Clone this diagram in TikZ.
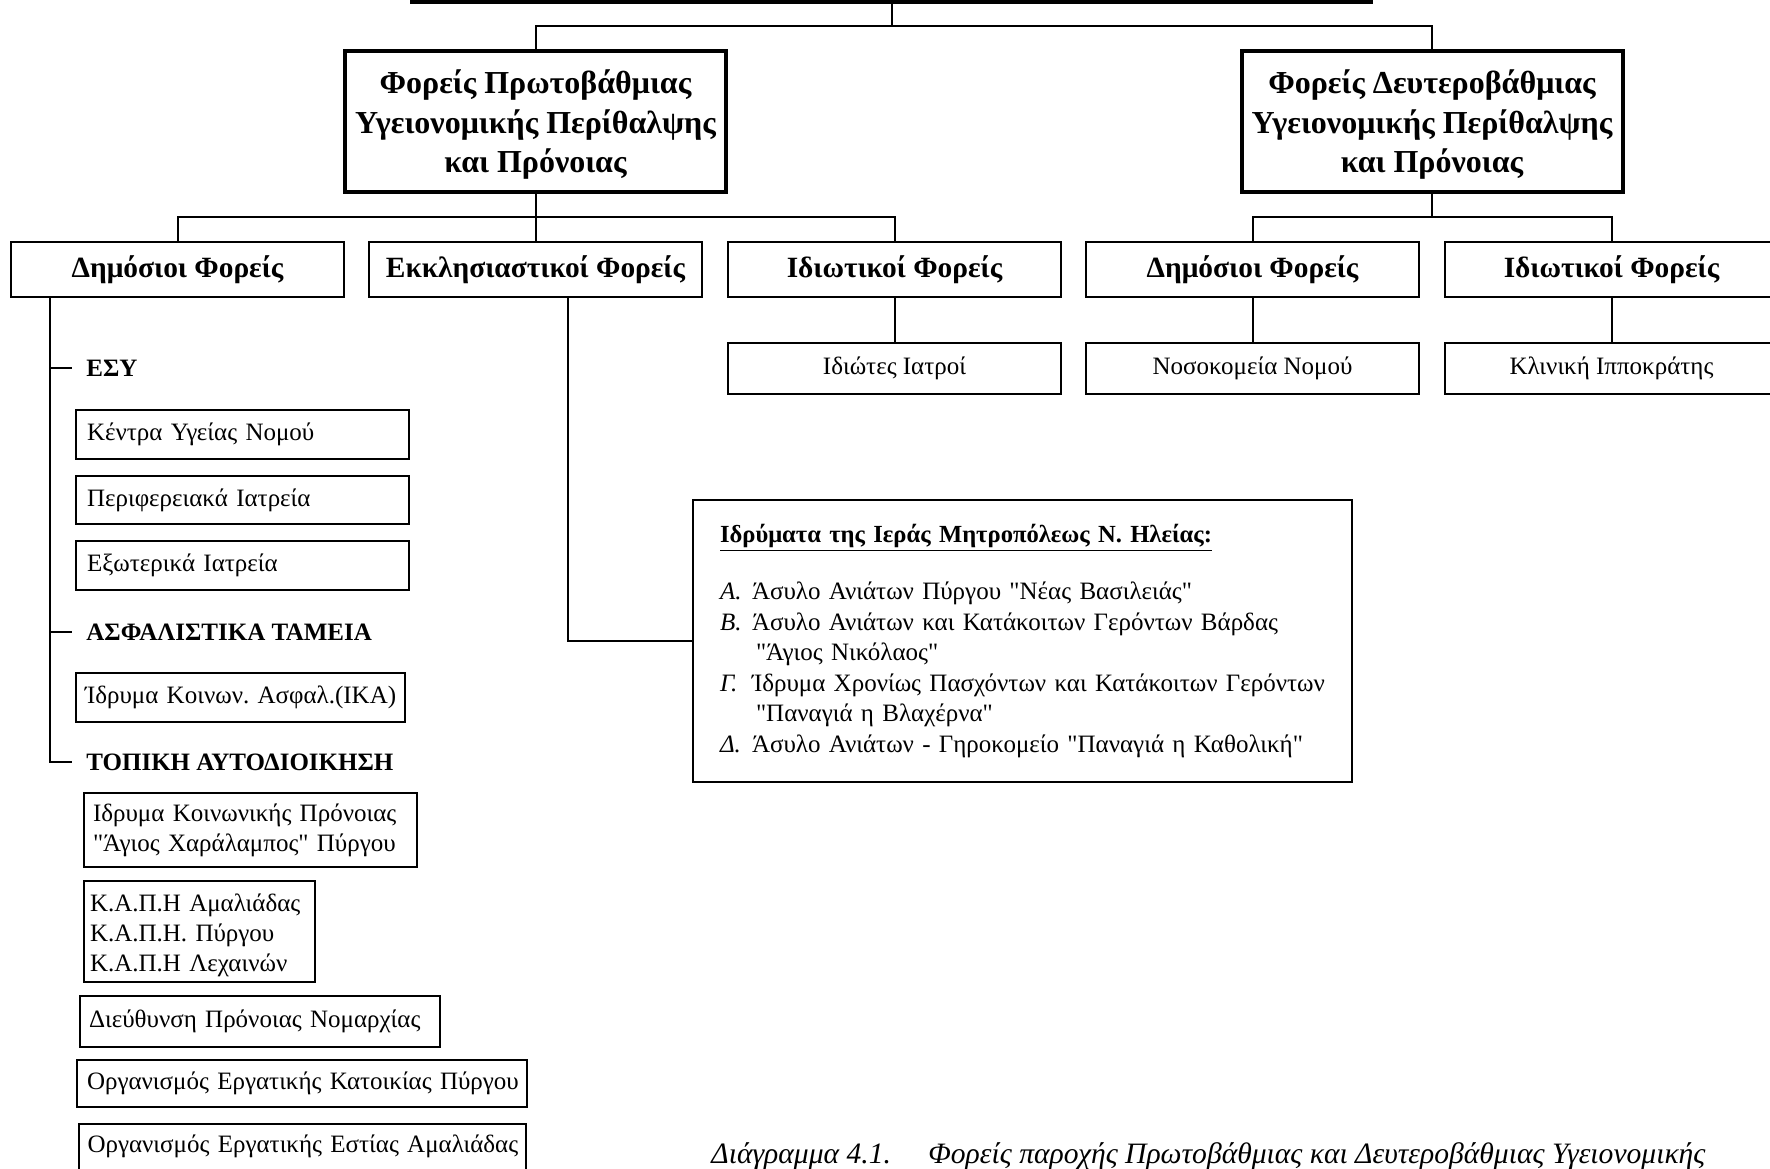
\documentclass[tikz,border=0pt]{standalone}
\usepackage{fontspec}
\setmainfont{Liberation Serif}[Ligatures=TeXOff]
\newcommand{\fsN}{\fontsize{12.5pt}{14.8pt}\selectfont}
\frenchspacing
\begin{document}
\frenchspacing
\begin{tikzpicture}[x=0.5pt,y=-0.5pt,
  conn/.style={line width=1pt},
  topbox/.style={draw, line width=1.8pt, minimum width=479.5pt, minimum height=31pt, inner sep=0pt},
  headbox/.style={draw, line width=2pt, align=center, font=\fontsize{16pt}{19.8pt}\selectfont\bfseries, minimum width=190.5pt, minimum height=70.5pt, inner sep=0pt},
  catbox/.style={draw, line width=1pt, font=\fontsize{14.7pt}{17pt}\selectfont\bfseries, minimum width=166.5pt, minimum height=27.5pt, inner sep=0pt},
  unitbox/.style={draw, line width=1pt, font=\fsN, minimum width=166.5pt, minimum height=25.5pt, inner sep=0pt},
  grouplabel/.style={anchor=west, font=\fontsize{12.5pt}{14.8pt}\selectfont\bfseries, inner xsep=7pt, inner ysep=0pt},
  listbox/.style={draw, line width=1pt, font=\fsN, anchor=west, align=left, inner ysep=0pt},
  captext/.style={anchor=base west, inner sep=0pt, font=\fontsize{14.8pt}{17pt}\selectfont\itshape}
]
\useasboundingbox (0,0) rectangle (1770,1168);
\clip (0,0) rectangle (1770,1168);
\fill[white] (0,0) rectangle (1770,1168);

% top level (cut off)
\node[topbox] (top) at (891.5,-29) {};

% level 1
\node[headbox] (prim) at (535.5,121.5) {\rule{0pt}{15pt}Φορείς Πρωτοβάθμιας\\Υγειονομικής Περίθαλψης\\και Πρόνοιας};
\node[headbox] (sec) at (1432,121.5) {\rule{0pt}{15pt}Φορείς Δευτεροβάθμιας\\Υγειονομικής Περίθαλψης\\και Πρόνοιας};

% level 2
\node[catbox] (pubL) at (177.5,269.5) {Δημόσιοι Φορείς};
\node[catbox] (eccl) at (535.5,269.5) {Εκκλησιαστικοί Φορείς};
\node[catbox] (privL) at (894.5,269.5) {Ιδιωτικοί Φορείς};
\node[catbox] (pubR) at (1252.5,269.5) {Δημόσιοι Φορείς};
\node[catbox] (privR) at (1611.5,269.5) {Ιδιωτικοί Φορείς};

% level 3
\node[unitbox] (doc) at (894.5,368.5) {Ιδιώτες Ιατροί};
\node[unitbox] (hosp) at (1252.5,368.5) {Νοσοκομεία Νομού};
\node[unitbox] (clin) at (1611.5,368.5) {Κλινική Ιπποκράτης};

% connectors top
\coordinate (j0) at (891.5,25.5);
\coordinate (j1) at (535.5,217);
\coordinate (j2) at (1432,217);
\draw[conn] (top.south) -- (j0);
\draw[conn] (prim.north) |- (j0) -| (sec.north);
\draw[conn] (prim.south) -- (eccl.north);
\draw[conn] (pubL.north) |- (j1) -| (privL.north);
\draw[conn] (sec.south) -- (j2);
\draw[conn] (pubR.north) |- (j2) -| (privR.north);
\draw[conn] (privL) -- (doc);
\draw[conn] (pubR) -- (hosp);
\draw[conn] (privR) -- (clin);

% left branch: public bodies
\node[grouplabel] (esy) at (72,368) {ΕΣΥ};
\node[grouplabel] (asf) at (72,632) {ΑΣΦΑΛΙΣΤΙΚΑ ΤΑΜΕΙΑ};
\node[grouplabel] (topa) at (72,762) {ΤΟΠΙΚΗ ΑΥΤΟΔΙΟΙΚΗΣΗ};
\coordinate (stem) at ([xshift=20pt]pubL.south west);
\draw[conn] (stem) |- (topa.west);
\draw[conn] (stem |- esy.west) -- (esy.west);
\draw[conn] (stem |- asf.west) -- (asf.west);

\node[listbox, text width=155.5pt, inner xsep=5.5pt, minimum height=24.5pt] (kyn) at (75,434.5) {\mbox{Κέντρα Υγείας Νομού}};
\node[listbox, text width=155.5pt, inner xsep=5.5pt, minimum height=24pt] (pi) at (75,500) {\mbox{Περιφερειακά Ιατρεία}};
\node[listbox, text width=155.5pt, inner xsep=5.5pt, minimum height=24.5pt] (ei) at (75,565.5) {\mbox{Εξωτερικά Ιατρεία}};
\node[listbox, text width=155.5pt, inner xsep=4.5pt, minimum height=24.5pt] (ika) at (75,697.5) {\mbox{Ίδρυμα Κοινων. Ασφαλ.(ΙΚΑ)}};

\node[listbox, text width=157.5pt, inner xsep=4.5pt, minimum height=37pt, font=\fontsize{12.5pt}{15pt}\selectfont] (ikp) at (83,830) {Ιδρυμα Κοινωνικής Πρόνοιας\\"Άγιος Χαράλαμπος" Πύργου};
\node[listbox, text width=109.5pt, inner xsep=3pt, minimum height=50.5pt, font=\fontsize{12.5pt}{15pt}\selectfont] (kapi) at (83,931.5) {\rule{0pt}{13pt}Κ.Α.Π.Η Αμαλιάδας\\Κ.Α.Π.Η. Πύργου\\Κ.Α.Π.Η Λεχαινών};
\node[listbox, text width=171pt, inner xsep=4.5pt, minimum height=25.5pt] (dpn) at (79,1021.5) {\mbox{Διεύθυνση Πρόνοιας Νομαρχίας}};
\node[listbox, text width=215pt, inner xsep=5pt, minimum height=23.5pt] (oek) at (76,1083.5) {\mbox{Οργανισμός Εργατικής Κατοικίας Πύργου}};
\node[listbox, anchor=north west, text width=215pt, inner xsep=4.25pt, text height=14pt, text depth=17pt] (oee) at (78,1123) {\mbox{Οργανισμός Εργατικής Εστίας Αμαλιάδας}};

% church institutions
\node[draw, line width=1pt, font=\fontsize{12.5pt}{15.25pt}\selectfont, align=left, text width=302.5pt, inner xsep=13.5pt, inner ysep=0pt, minimum width=329.5pt, minimum height=141pt] (inst) at (1022.5,641) {%
\begin{tabular}{@{}l@{}}
\underline{\textbf{\fontsize{12.3pt}{15.25pt}\selectfont Ιδρύματα της Ιεράς Μητροπόλεως Ν. Ηλείας:}}\\[13.6pt]
\makebox[16pt][l]{\textit{Α.}}Άσυλο Ανιάτων Πύργου "Νέας Βασιλειάς"\\
\makebox[16pt][l]{\textit{Β.}}Άσυλο Ανιάτων και Κατάκοιτων Γερόντων Βάρδας\\
\hspace*{18pt}"Άγιος Νικόλαος"\\
\makebox[16pt][l]{\textit{Γ.}}Ίδρυμα Χρονίως Πασχόντων και Κατάκοιτων Γερόντων\\
\hspace*{18pt}"Παναγιά η Βλαχέρνα"\\
\makebox[16pt][l]{\textit{Δ.}}Άσυλο Ανιάτων - Γηροκομείο "Παναγιά η Καθολική"
\end{tabular}};
\draw[conn] ([xshift=16.25pt]eccl.south) |- (inst.west);

% caption
\node[captext] (cap1) at (711,1163) {Διάγραμμα 4.1.};
\node[captext] (cap2) at (928,1163) {Φορείς παροχής Πρωτοβάθμιας και Δευτεροβάθμιας Υγειονομικής};
\end{tikzpicture}
\end{document}
